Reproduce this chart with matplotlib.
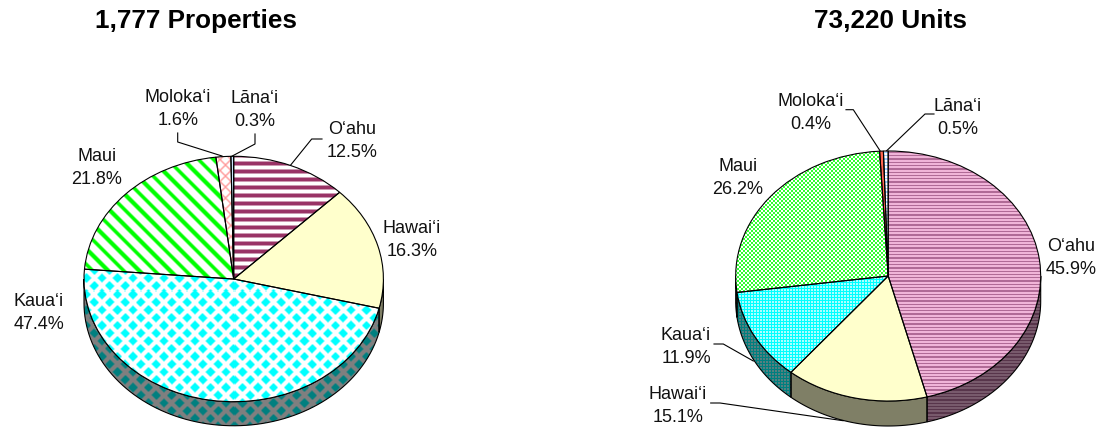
import numpy as np
import matplotlib
matplotlib.use("Agg")
import matplotlib.pyplot as plt

plt.rcParams['font.family'] = ['Liberation Sans', 'DejaVu Sans']

islands = ["O‘ahu", "Hawai‘i", "Kaua‘i", "Maui", "Moloka‘i", "Lāna‘i"]
props_pct = [12.5, 16.3, 47.4, 21.8, 1.6, 0.3]
units_pct = [45.9, 15.1, 11.9, 26.2, 0.4, 0.5]
titles = ["1,777 Properties", "73,220 Units"]

W, H = 1100, 431


def pattern(kind, w, h):
    """ Boolean foreground mask for a pattern fill, w x h pixels """
    y, x = np.mgrid[0:h, 0:w].astype(float)
    if kind == 'stripes':
        return (y % 8) < 3.6
    if kind == 'fine_stripes':
        return (y % 3.3) < 1.3
    if kind == 'diag':
        return ((x - y) % 15.5) < 5.5
    if kind == 'diamonds':
        p = 15.5
        return (((x + y) % p) < 9.5) & (((x - y) % p) < 9.5)
    if kind == 'lattice':
        a = ((x + y) % 11) < 1.4
        b = ((x - y) % 11) < 1.4
        return a | b
    if kind == 'fine_check':
        return ((np.floor(x / 2) + np.floor(y / 2)) % 2) == 0
    if kind == 'dots':
        return ~(((x % 3) < 1.5) & ((y % 3) < 1.5))
    if kind == 'solid':
        return np.ones_like(x, dtype=bool)
    raise ValueError(kind)


def blur(img):
    """ Soften like the rescaled screenshot """
    return (img + np.roll(img, 1, 0) + np.roll(img, 1, 1)
            + np.roll(np.roll(img, 1, 0), 1, 1)) / 4.0


def fill_pattern(ax, patch, kind, fg, bg, shade=1.0):
    """ Paint a pattern image clipped to a patch """
    x0, x1 = ax.get_xlim()
    y0, y1 = ax.get_ylim()
    bbox = ax.get_window_extent()
    w, h = int(round(bbox.width)), int(round(bbox.height))
    mask = pattern(kind, w, h)
    img = np.zeros((h, w, 3))
    img[mask] = matplotlib.colors.to_rgb(fg)
    img[~mask] = matplotlib.colors.to_rgb(bg)
    if not kind.startswith('fine') and kind != 'dots':
        img = blur(img)
    img = img * shade
    im = ax.imshow(img, extent=(x0, x1, y0, y1), origin='upper',
                   interpolation='nearest', aspect='auto', zorder=patch.get_zorder())
    im.set_clip_path(patch)
    ax.set_xlim(x0, x1)
    ax.set_ylim(y0, y1)


def draw_pie(pos, values, styles, depth):
    """ 3D looking pie, pos = (cx, cy, rx, ry) in figure pixels """
    cx, cy, rx, ry = pos
    margin = 0.02
    left = cx - rx * (1 + margin)
    bottom = H - cy - ry * (1 + depth + margin)
    ax = fig.add_axes([left / W, bottom / H,
                       2 * rx * (1 + margin) / W,
                       ry * (2 + depth + 2 * margin) / H])
    wedges, _ = ax.pie(values, startangle=90, counterclock=False, radius=1,
                       wedgeprops=dict(edgecolor='k', linewidth=0.8, zorder=3))
    ax.set_aspect('auto')
    ax.set_xlim(-1 - margin, 1 + margin)
    ax.set_ylim(-1 - depth - margin, 1 + margin)

    # Side wall, only the front half of the rim shows
    stops = np.cumsum([0] + list(values)) / np.sum(values) * 2 * np.pi
    for i, (kind, fg, bg) in enumerate(styles):
        a0 = max(stops[i], np.pi / 2)
        a1 = min(stops[i + 1], 3 * np.pi / 2)
        if a1 <= a0:
            continue
        t = np.linspace(a0, a1, 80)
        xs = np.sin(t)
        ys = np.cos(t)
        wall = ax.fill(np.r_[xs, xs[::-1]], np.r_[ys, ys[::-1] - depth],
                       facecolor='none', edgecolor='k', linewidth=0.8, zorder=2)[0]
        fill_pattern(ax, wall, kind, fg, bg, shade=0.5)
        wall.set_zorder(2.5)

    for w, (kind, fg, bg) in zip(wedges, styles):
        w.set_facecolor('none')
        fill_pattern(ax, w, kind, fg, bg)
        w.set_zorder(5)
    return ax


fig = plt.figure(figsize=(W / 100, H / 100), dpi=100)

styles_left = [('stripes', '#993366', '#ffffff'),
               ('solid', '#ffffcc', '#ffffcc'),
               ('diamonds', '#00ffff', '#ffffff'),
               ('diag', '#00ff00', '#ffffff'),
               ('lattice', '#ff9999', '#ffffff'),
               ('solid', '#cce6ff', '#cce6ff')]
styles_right = [('fine_stripes', '#b06a96', '#f0b4d8'),
                ('solid', '#ffffcc', '#ffffcc'),
                ('dots', '#00ffff', '#aaffff'),
                ('fine_check', '#33ff33', '#ffffff'),
                ('solid', '#ff6650', '#ff6650'),
                ('fine_stripes', '#99ccff', '#ffffff')]

draw_pie((233.7, 280, 149.7, 122.7), props_pct, styles_left, 0.196)
draw_pie((888.2, 277, 152.5, 125), units_pct, styles_right, 0.2)

# Overlay in figure pixels for labels and leader lines
over = fig.add_axes([0, 0, 1, 1], zorder=10)
over.set_xlim(0, W)
over.set_ylim(H, 0)
over.axis('off')
over.patch.set_alpha(0)

over.text(196, 21, titles[0], ha='center', va='center', fontsize=18.8, fontweight='bold')
over.text(890, 21, titles[1], ha='center', va='center', fontsize=18.8, fontweight='bold')

label_pos_left = [(352, 141), (412, 240), (39, 313), (97, 168), (178, 109), (255, 110)]
label_pos_right = [(1071, 258), (678, 406), (686, 347), (738, 178), (811, 113), (958, 118)]

for values, places, gap in ((props_pct, label_pos_left, 1.42), (units_pct, label_pos_right, 1.5)):
    for name, val, (lx, ly) in zip(islands, values, places):
        over.text(lx, ly, "{}\n{:.1f}%".format(name, val), ha='center', va='center',
                  fontsize=13, linespacing=gap, color='#111111')

leaders = [
    ([322, 311.7, 290.7], [140, 140, 166]),
    ([177.7, 177.7, 222], [134, 143, 157]),
    ([255, 255, 231.7], [135, 145, 157.3]),
    ([846, 853.3, 880], [110.7, 110.7, 151.7]),
    ([934, 925, 886.7], [115, 115, 151.7]),
    ([714, 723.3, 753.3], [345, 345, 362]),
    ([710.7, 720, 843], [404, 404, 421.7]),
]
for xs, ys in leaders:
    over.plot(xs, ys, color='k', linewidth=0.8)

fig.savefig("out.png", dpi=100)
